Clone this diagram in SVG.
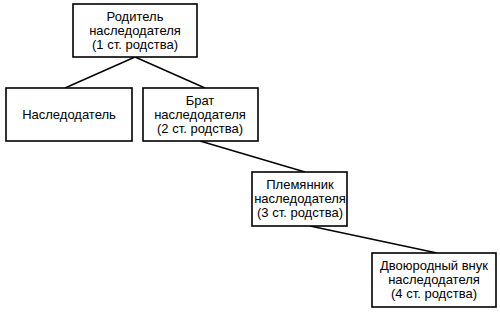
<svg xmlns="http://www.w3.org/2000/svg" width="500" height="315" viewBox="0 0 500 315">
<style>
.box{fill:#fff;stroke:#000;stroke-width:1.6}
.c{stroke:#000;stroke-width:1.4;fill:none}
text{font-family:"Liberation Sans",Arial,sans-serif;font-size:13px;fill:#000;text-anchor:middle}
</style>
<rect width="500" height="315" fill="#fff"/>
<g id="connectors">
<line class="c" x1="135" y1="57" x2="65" y2="88"/>
<line class="c" x1="135" y1="57" x2="205" y2="88"/>
<line class="c" x1="200" y1="141" x2="305" y2="172"/>
<line class="c" x1="310" y1="226" x2="437" y2="253"/>
</g>
<g id="n1">
<rect class="box" x="73" y="4" width="124" height="53"/>
<text x="135" y="21">Родитель</text>
<text x="135" y="35">наследодателя</text>
<text x="135" y="49">(1 ст. родства)</text>
</g>
<g id="n2">
<rect class="box" x="6" y="88" width="126" height="53"/>
<text x="69" y="119">Наследодатель</text>
</g>
<g id="n3">
<rect class="box" x="143" y="88" width="115" height="53"/>
<text x="200" y="105">Брат</text>
<text x="200" y="119">наследодателя</text>
<text x="200" y="133">(2 ст. родства)</text>
</g>
<g id="n4">
<rect class="box" x="252" y="172" width="95" height="54"/>
<text x="300" y="189">Племянник</text>
<text x="300" y="203">наследодателя</text>
<text x="300" y="217">(3 ст. родства)</text>
</g>
<g id="n5">
<rect class="box" x="372" y="253" width="124" height="54"/>
<text x="434" y="270">Двоюродный внук</text>
<text x="434" y="284">наследодателя</text>
<text x="434" y="298">(4 ст. родства)</text>
</g>
</svg>
